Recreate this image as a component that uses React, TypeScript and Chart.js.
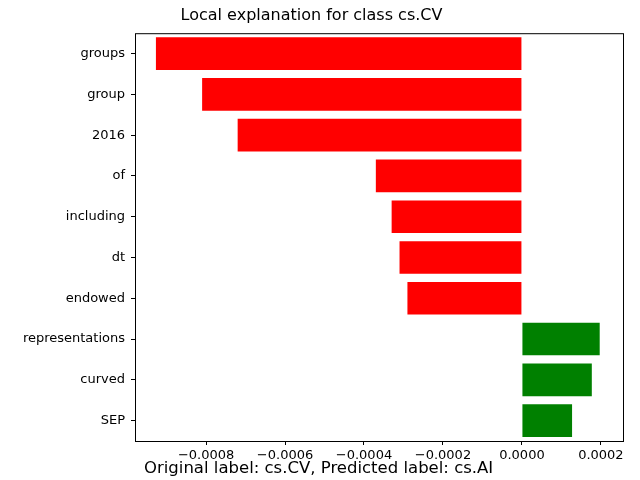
import React, { useEffect, useRef } from "react";
import { Chart, registerables } from "chart.js";

Chart.register(...registerables);

const features = ["groups", "group", "2016", "of", "including", "dt", "endowed", "representations", "curved", "SEP"];
const weights = [-0.000927, -0.00081, -0.00072, -0.00037, -0.00033, -0.00031, -0.00029, 0.000197, 0.000177, 0.000127];
const tickValues = [-0.0008, -0.0006, -0.0004, -0.0002, 0, 0.0002];

const FONT = "'DejaVu Sans', sans-serif";

const textPlugin = {
  id: "mplText",
  afterDraw(chart: Chart) {
    const { ctx, chartArea } = chart;
    ctx.save();
    ctx.strokeStyle = "#000";
    ctx.lineWidth = 1;
    ctx.strokeRect(chartArea.left + 0.5, chartArea.top + 0.5, chartArea.right - chartArea.left, chartArea.bottom - chartArea.top);
    ctx.fillStyle = "#000";
    ctx.font = `16.5px ${FONT}`;
    ctx.textAlign = "left";
    ctx.textBaseline = "middle";
    ctx.fillText("Original label: cs.CV, Predicted label: cs.AI", 144, 469);
    ctx.restore();
  },
};

export default function App() {
  const ref = useRef<HTMLCanvasElement>(null);
  useEffect(() => {
    document.body.style.margin = "0";
    if (!ref.current) return;
    const chart = new Chart(ref.current, {
      type: "bar",
      data: {
        labels: features,
        datasets: [
          {
            data: weights,
            backgroundColor: weights.map((w) => (w < 0 ? "#ff0000" : "#008000")),
            categoryPercentage: 0.8,
            barPercentage: 1,
          },
        ],
      },
      options: {
        indexAxis: "y",
        animation: false,
        responsive: false,
        layout: { padding: { top: 0, right: 17, left: 0, bottom: 0 } },
        plugins: {
          legend: { display: false },
          tooltip: { enabled: false },
          title: {
            display: true,
            text: "Local explanation for class cs.CV",
            color: "#000",
            font: { family: FONT, size: 16, weight: "normal" },
            padding: { top: 6, bottom: 8 },
          },
        },
        scales: {
          x: {
            min: -0.00098,
            max: 0.000256,
            afterBuildTicks: (s: any) => {
              s.ticks = tickValues.map((v) => ({ value: v }));
            },
            afterFit: (s: any) => {
              s.height = 39;
            },
            grid: { drawOnChartArea: false, tickLength: 4, color: "#000" },
            border: { display: false },
            ticks: {
              color: "#000",
              font: { family: FONT, size: 13 },
              padding: 3,
              maxRotation: 0,
              callback: (v: any) => (Number(v) < 0 ? "\u2212" + Math.abs(Number(v)).toFixed(4) : Number(v).toFixed(4)),
            },
          },
          y: {
            afterFit: (s: any) => {
              s.width = 135;
            },
            grid: { drawOnChartArea: false, tickLength: 4, color: "#000", offset: false },
            border: { display: false },
            ticks: { color: "#000", font: { family: FONT, size: 13 }, padding: 6 },
          },
        },
      },
      plugins: [textPlugin],
    });
    return () => chart.destroy();
  }, []);
  return <canvas ref={ref} width={640} height={480} style={{ display: "block" }} />;
}
